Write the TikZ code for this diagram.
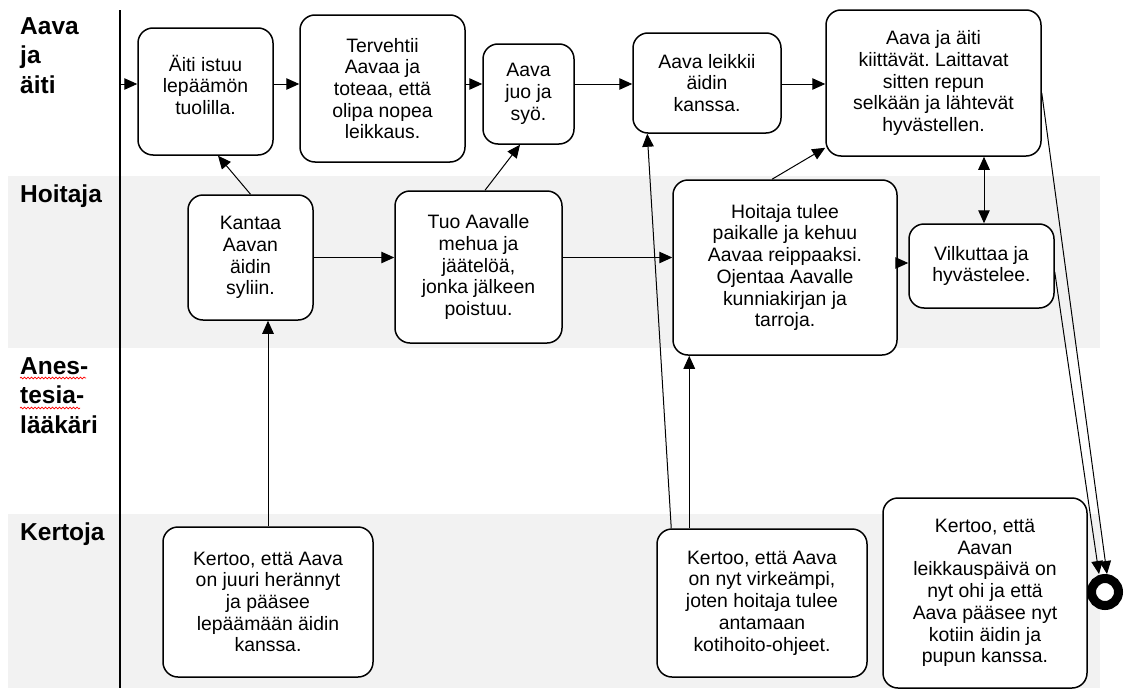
\documentclass[tikz,border=0pt]{standalone}
\usepackage{fontspec}
\setmainfont{Liberation Sans}
\usetikzlibrary{arrows.meta,decorations.pathmorphing}
\definecolor{lanegray}{HTML}{F2F2F2}
\newcommand{\boxfont}{\fontsize{19.4}{21.7}\selectfont\frenchspacing}
\newcommand{\lanefont}{\fontsize{24.5}{29.5}\selectfont\bfseries}

\begin{document}
\begin{tikzpicture}[x=1pt, y=-1pt]
    \tikzstyle{story box} = [rectangle,rounded corners=15pt,draw=black,fill=white,line width=1.5pt,align=center,inner sep=2pt,font=\boxfont]
    \tikzstyle{lane label} = [anchor=north west,align=left,inner sep=0pt,font=\lanefont]
    \tikzstyle{lane line} = [draw=black,line width=1.2pt]
    \tikzstyle{end mark} = [circle,draw=black,fill=white,line width=9pt,minimum size=27pt,inner sep=0pt]
    \tikzstyle{story edge} = [draw=black,line width=1pt]
    \tikzstyle{story edge directed} = [story edge, ->, >={Triangle[length=13pt,width=11.5pt]}]
    \tikzstyle{story edge both} = [story edge, <->, >={Triangle[length=13pt,width=11.5pt]}]
    \tikzstyle{spell mark} = [draw=red,line width=0.7pt,decorate,decoration={snake,amplitude=0.9pt,segment length=3.5pt}]
\useasboundingbox (0,0) rectangle (1129,688);
\fill[lanegray] (8,176) rectangle (1100,348);
\fill[lanegray] (8,514) rectangle (1100,688);
\draw[lane line] (120,10) -- (120,688);
\node[lane label] (laneA) at (20,17) {Aava\\ja\\äiti};
\node[lane label] (laneB) at (20,185) {Hoitaja};
\node[lane label] (laneC) at (20,357) {Anes-\\tesia-\\lääkäri};
\node[lane label] (laneD) at (20,523) {Kertoja};
\draw[spell mark] (20,378) -- (86,378);
\draw[spell mark] (20,408) -- (80,408);
\coordinate (start) at (120,84);
\node[story box, minimum width=135pt, minimum height=127pt] (istuu) at (205.5, 91.5) {Äiti istuu\\lepäämön\\tuolilla.\\[-8pt]};
\node[story box, minimum width=165pt, minimum height=147pt] (tervehtii) at (382.5, 88.5) {Tervehtii\\Aavaa ja\\toteaa, että\\olipa nopea\\leikkaus.};
\node[story box, minimum width=91pt, minimum height=100pt] (juo) at (528.5, 94) {Aava\\juo ja\\syö.};
\node[story box, minimum width=148pt, minimum height=100pt] (leikkii) at (707, 83) {Aava leikkii\\äidin\\kanssa.};
\node[story box, minimum width=215pt, minimum height=146pt] (kiitos) at (933.5, 83) {Aava ja äiti\\kiittävät. Laittavat\\sitten repun\\selkään ja lähtevät\\hyvästellen.};
\node[story box, minimum width=125pt, minimum height=125pt] (kantaa) at (250.5, 257.5) {Kantaa\\Aavan\\äidin\\syliin.};
\node[story box, minimum width=167pt, minimum height=152pt] (tuo) at (478.5, 267) {Tuo Aavalle\\mehua ja\\jäätelöä,\\jonka jälkeen\\poistuu.};
\node[story box, minimum width=224pt, minimum height=175pt] (kehuu) at (785, 267.5) {Hoitaja tulee\\paikalle ja kehuu\\Aavaa reippaaksi.\\Ojentaa Aavalle\\kunniakirjan ja\\tarroja.};
\node[story box, minimum width=145pt, minimum height=84pt] (vilkuttaa) at (981.5, 266) {Vilkuttaa ja\\hyvästelee.};
\node[story box, minimum width=210pt, minimum height=150pt] (kerto1) at (268, 602) {Kertoo, että Aava\\on juuri herännyt\\ja pääsee\\lepäämään äidin\\kanssa.};
\node[story box, minimum width=210pt, minimum height=148pt] (kerto2) at (762, 603) {Kertoo, että Aava\\on nyt virkeämpi,\\joten hoitaja tulee\\antamaan\\kotihoito-ohjeet.};
\node[story box, minimum width=204pt, minimum height=190pt] (kerto3) at (985, 593) {Kertoo, että\\Aavan\\leikkauspäivä on\\nyt ohi ja että\\Aava pääsee nyt\\kotiin äidin ja\\pupun kanssa.};
\node[end mark] (end) at (1105, 592) {};
\draw[story edge directed] (start) -- (istuu.west |- start);
\draw[story edge directed] (istuu.east |- start) -- (tervehtii.west |- start);
\draw[story edge directed] (tervehtii.east |- start) -- (juo.west |- start);
\draw[story edge directed] (juo.east |- start) -- (leikkii.west |- start);
\draw[story edge directed] (leikkii.east |- start) -- (kiitos.west |- start);
\draw[story edge directed] (kantaa.north) -- ([xshift=12.5pt]istuu.south);
\draw[story edge directed] (kerto1.north) -- (kerto1.north |- kantaa.south);
\draw[story edge directed] (kantaa.east) -- (tuo.west |- kantaa.east);
\draw[story edge directed] ([xshift=6.5pt]tuo.north) -- ([xshift=-8.5pt]juo.south);
\draw[story edge directed] (tuo.east |- kantaa.east) -- (kehuu.west |- kantaa.east);
\draw[story edge directed] ([xshift=15pt]kerto2.north west) -- ([xshift=15pt]leikkii.south west);
\draw[story edge directed] ([xshift=33pt]kerto2.north west) -- ([xshift=33pt]kerto2.north west |- kehuu.south);
\draw[story edge directed] ([xshift=-13pt]kehuu.north) -- ([yshift=9pt]kiitos.south west);
\draw[story edge directed] ([yshift=3pt]kehuu.east |- vilkuttaa.west) -- ([yshift=3pt]vilkuttaa.west);
\draw[story edge both] ([xshift=2.5pt]vilkuttaa.north) -- ([xshift=2.5pt]vilkuttaa.north |- kiitos.south);
\draw[story edge directed] ([yshift=-10pt]kiitos.east) -- ([xshift=2pt]end.north);
\draw[story edge directed] ([yshift=-6pt]vilkuttaa.east) -- ([xshift=-6pt]end.north);
\end{tikzpicture}
\end{document}
